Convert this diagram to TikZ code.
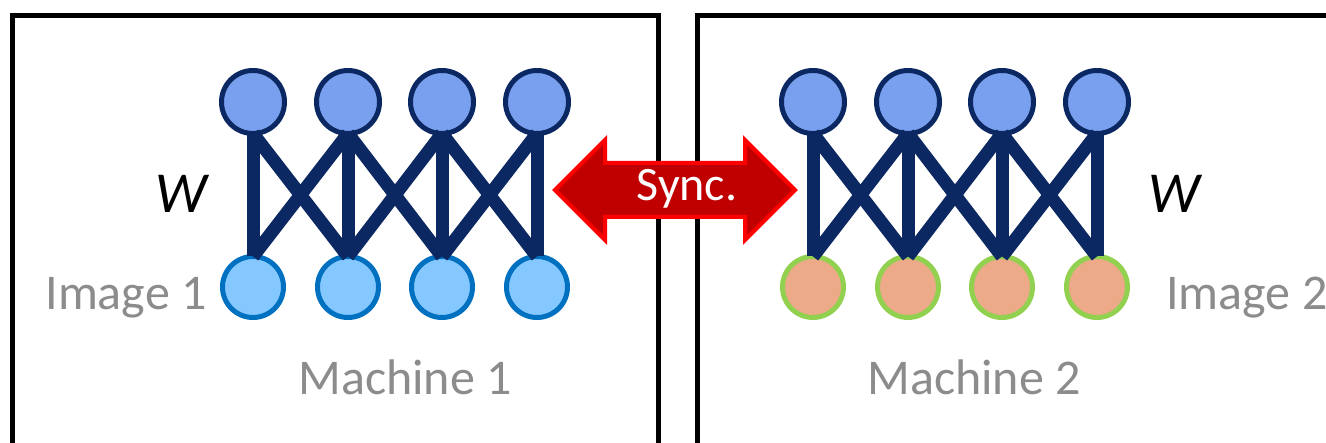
\documentclass[tikz,border=0pt]{standalone}
\usepackage{fontspec}
\setmainfont{Carlito}
\definecolor{navy}{RGB}{12,40,98}
\definecolor{topfill}{RGB}{120,160,238}
\definecolor{lbfill}{RGB}{132,200,255}
\definecolor{lbedge}{RGB}{0,112,192}
\definecolor{rbfill}{RGB}{236,170,136}
\definecolor{rbedge}{RGB}{146,208,80}
\definecolor{txtgray}{RGB}{140,140,140}
\definecolor{syncfill}{RGB}{192,0,0}
\tikzset{
  topnode/.style={circle,draw=navy,fill=topfill,line width=5pt,minimum size=63pt,inner sep=0pt,outer sep=0pt},
  lbnode/.style={circle,draw=lbedge,fill=lbfill,line width=5pt,minimum size=61pt,inner sep=0pt,outer sep=0pt},
  rbnode/.style={circle,draw=rbedge,fill=rbfill,line width=5pt,minimum size=61pt,inner sep=0pt,outer sep=0pt},
  edge/.style={draw=navy,line width=13pt},
  machinebox/.style={draw=black,line width=5pt},
  graytext/.style={text=txtgray,font=\fontsize{50}{60}\selectfont,inner sep=0pt},
  wtext/.style={text=black,font=\fontsize{58}{68}\selectfont\itshape,inner sep=0pt},
}
\begin{document}
\begin{tikzpicture}[x=1pt,y=-1pt]
\useasboundingbox (0,0) rectangle (1326,443);
\clip (0,0) rectangle (1326,443);
\fill[white] (0,0) rectangle (1326,443);
% machine boxes
\draw[machinebox] (12.5,470) -- (12.5,16) -- (658,16) -- (658,470);
\draw[machinebox] (697,470) -- (697,16) -- (1360,16);
% left network
\foreach \i/\x in {1/253,2/348,3/442,4/537}{
  \node[topnode] (lt\i) at (\x,102) {};
  \node[lbnode] (lb\i) at (\x,287) {};
}
\foreach \i/\x in {1/813,2/908,3/1002,4/1097}{
  \node[topnode] (rt\i) at (\x,102) {};
  \node[rbnode] (rb\i) at (\x,287) {};
}
\foreach \s in {l,r}{
  \foreach \i in {1,2,3,4}{
    \draw[edge] (\s t\i.south) -- (\s b\i.north);
  }
  \foreach \i/\j in {1/2,2/3,3/4}{
    \draw[edge] (\s t\i.south) -- (\s b\j.north);
    \draw[edge] (\s t\j.south) -- (\s b\i.north);
  }
}
% labels
\node[wtext,anchor=base] (w1) at (181,213) {W};
\node[wtext,anchor=base] (w2) at (1174,213) {W};
\node[graytext,anchor=base] (im1) at (126,310) {Image 1};
\node[graytext,anchor=base west] (im2) at (1166,310) {Image 2};
\node[graytext,anchor=base] (m1) at (405,395) {Machine 1};
\node[graytext,anchor=base] (m2) at (974,395) {Machine 2};
% sync arrow
\draw[draw=red,fill=syncfill,line width=4pt,line join=miter]
  (555,190) -- (605,140) -- (605,163) -- (745,163) -- (745,140) -- (795,190)
  -- (745,240) -- (745,217) -- (605,217) -- (605,240) -- cycle;
\node[text=white,font=\fontsize{48}{58}\selectfont,inner sep=0pt,anchor=base] (sync) at (687,201) {Sync.};
\end{tikzpicture}
\end{document}
